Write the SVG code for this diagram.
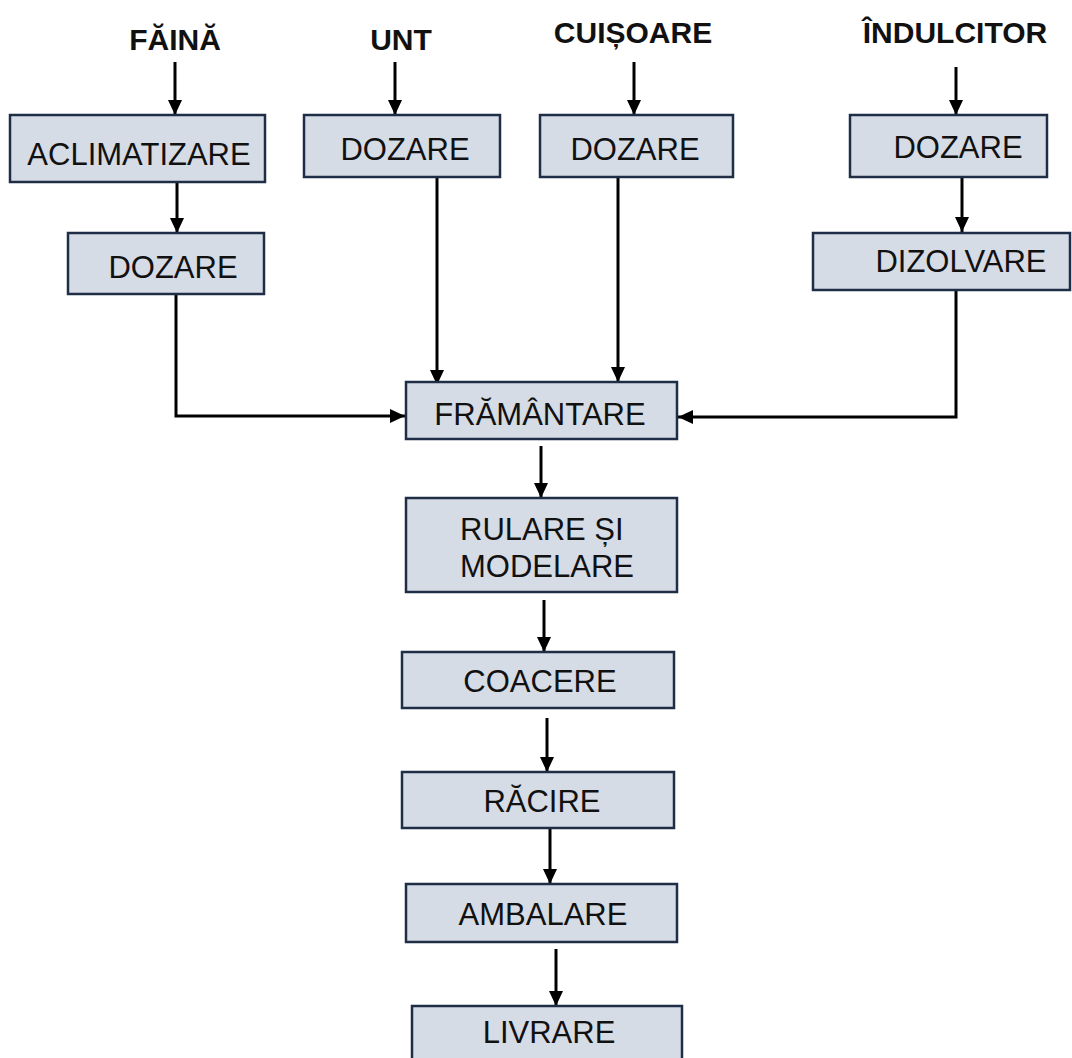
<svg xmlns="http://www.w3.org/2000/svg" width="1072" height="1058" viewBox="0 0 1072 1058">
<style>
.box{fill:#d6dce5;stroke:#1f2d47;stroke-width:2.5}
.t{font-family:"Liberation Sans",Arial,sans-serif;font-size:31px;fill:#111}
.h{font-family:"Liberation Sans",Arial,sans-serif;font-size:30px;font-weight:bold;fill:#111;text-anchor:middle}
.c{text-anchor:middle}
.ln{fill:none;stroke:#000;stroke-width:3;marker-end:url(#ah)}
</style>
<defs>
<marker id="ah" markerUnits="userSpaceOnUse" markerWidth="16" markerHeight="16" viewBox="0 0 16 16" refX="15" refY="8" orient="auto">
<path d="M0,1 L15,8 L0,15 Z" fill="#000"/>
</marker>
</defs>
<rect width="1072" height="1058" fill="#fff"/>
<g id="inputs">
<text class="h" x="175" y="50">FĂINĂ</text>
<text class="h" x="401" y="50">UNT</text>
<text class="h" x="633" y="43">CUIȘOARE</text>
<text class="h" x="955" y="43">ÎNDULCITOR</text>
</g>
<g id="connectors">
<path class="ln" d="M175,62 V115"/>
<path class="ln" d="M177,182 V233"/>
<path class="ln" d="M395,62 V115"/>
<path class="ln" d="M634,62 V115"/>
<path class="ln" d="M956,67 V115"/>
<path class="ln" d="M962,177 V232"/>
<path class="ln" d="M176,294 V416 H405"/>
<path class="ln" d="M437,177 V385"/>
<path class="ln" d="M618,177 V382"/>
<path class="ln" d="M956,290 V417 H678"/>
<path class="ln" d="M541,446 V498"/>
<path class="ln" d="M544,600 V652"/>
<path class="ln" d="M547,718 V772"/>
<path class="ln" d="M550,828 V884"/>
<path class="ln" d="M556,949 V1006"/>
</g>
<g id="aclimatizare"><rect class="box" x="10" y="115" width="255" height="67"/><text class="t c" x="139" y="165">ACLIMATIZARE</text></g>
<g id="dozare-faina"><rect class="box" x="68" y="233" width="196" height="61"/><text class="t c" x="173" y="278">DOZARE</text></g>
<g id="dozare-unt"><rect class="box" x="304" y="115" width="196" height="62"/><text class="t c" x="405" y="160">DOZARE</text></g>
<g id="dozare-cuisoare"><rect class="box" x="540" y="115" width="193" height="62"/><text class="t c" x="635" y="160">DOZARE</text></g>
<g id="dozare-indulcitor"><rect class="box" x="850" y="115" width="197" height="62"/><text class="t c" x="958" y="158">DOZARE</text></g>
<g id="dizolvare"><rect class="box" x="813" y="233" width="257" height="57"/><text class="t c" x="961" y="272">DIZOLVARE</text></g>
<g id="framantare"><rect class="box" x="406" y="382" width="271" height="57"/><text class="t c" x="540" y="425">FRĂMÂNTARE</text></g>
<g id="rulare"><rect class="box" x="406" y="498" width="271" height="94"/><text class="t" x="460" y="540">RULARE ȘI</text><text class="t" x="460" y="577">MODELARE</text></g>
<g id="coacere"><rect class="box" x="402" y="652" width="272" height="56"/><text class="t c" x="540" y="692">COACERE</text></g>
<g id="racire"><rect class="box" x="402" y="772" width="272" height="56"/><text class="t c" x="542" y="812">RĂCIRE</text></g>
<g id="ambalare"><rect class="box" x="406" y="884" width="271" height="58"/><text class="t c" x="543" y="925">AMBALARE</text></g>
<g id="livrare"><rect class="box" x="412" y="1006" width="270" height="60"/><text class="t c" x="549" y="1043">LIVRARE</text></g>
</svg>
